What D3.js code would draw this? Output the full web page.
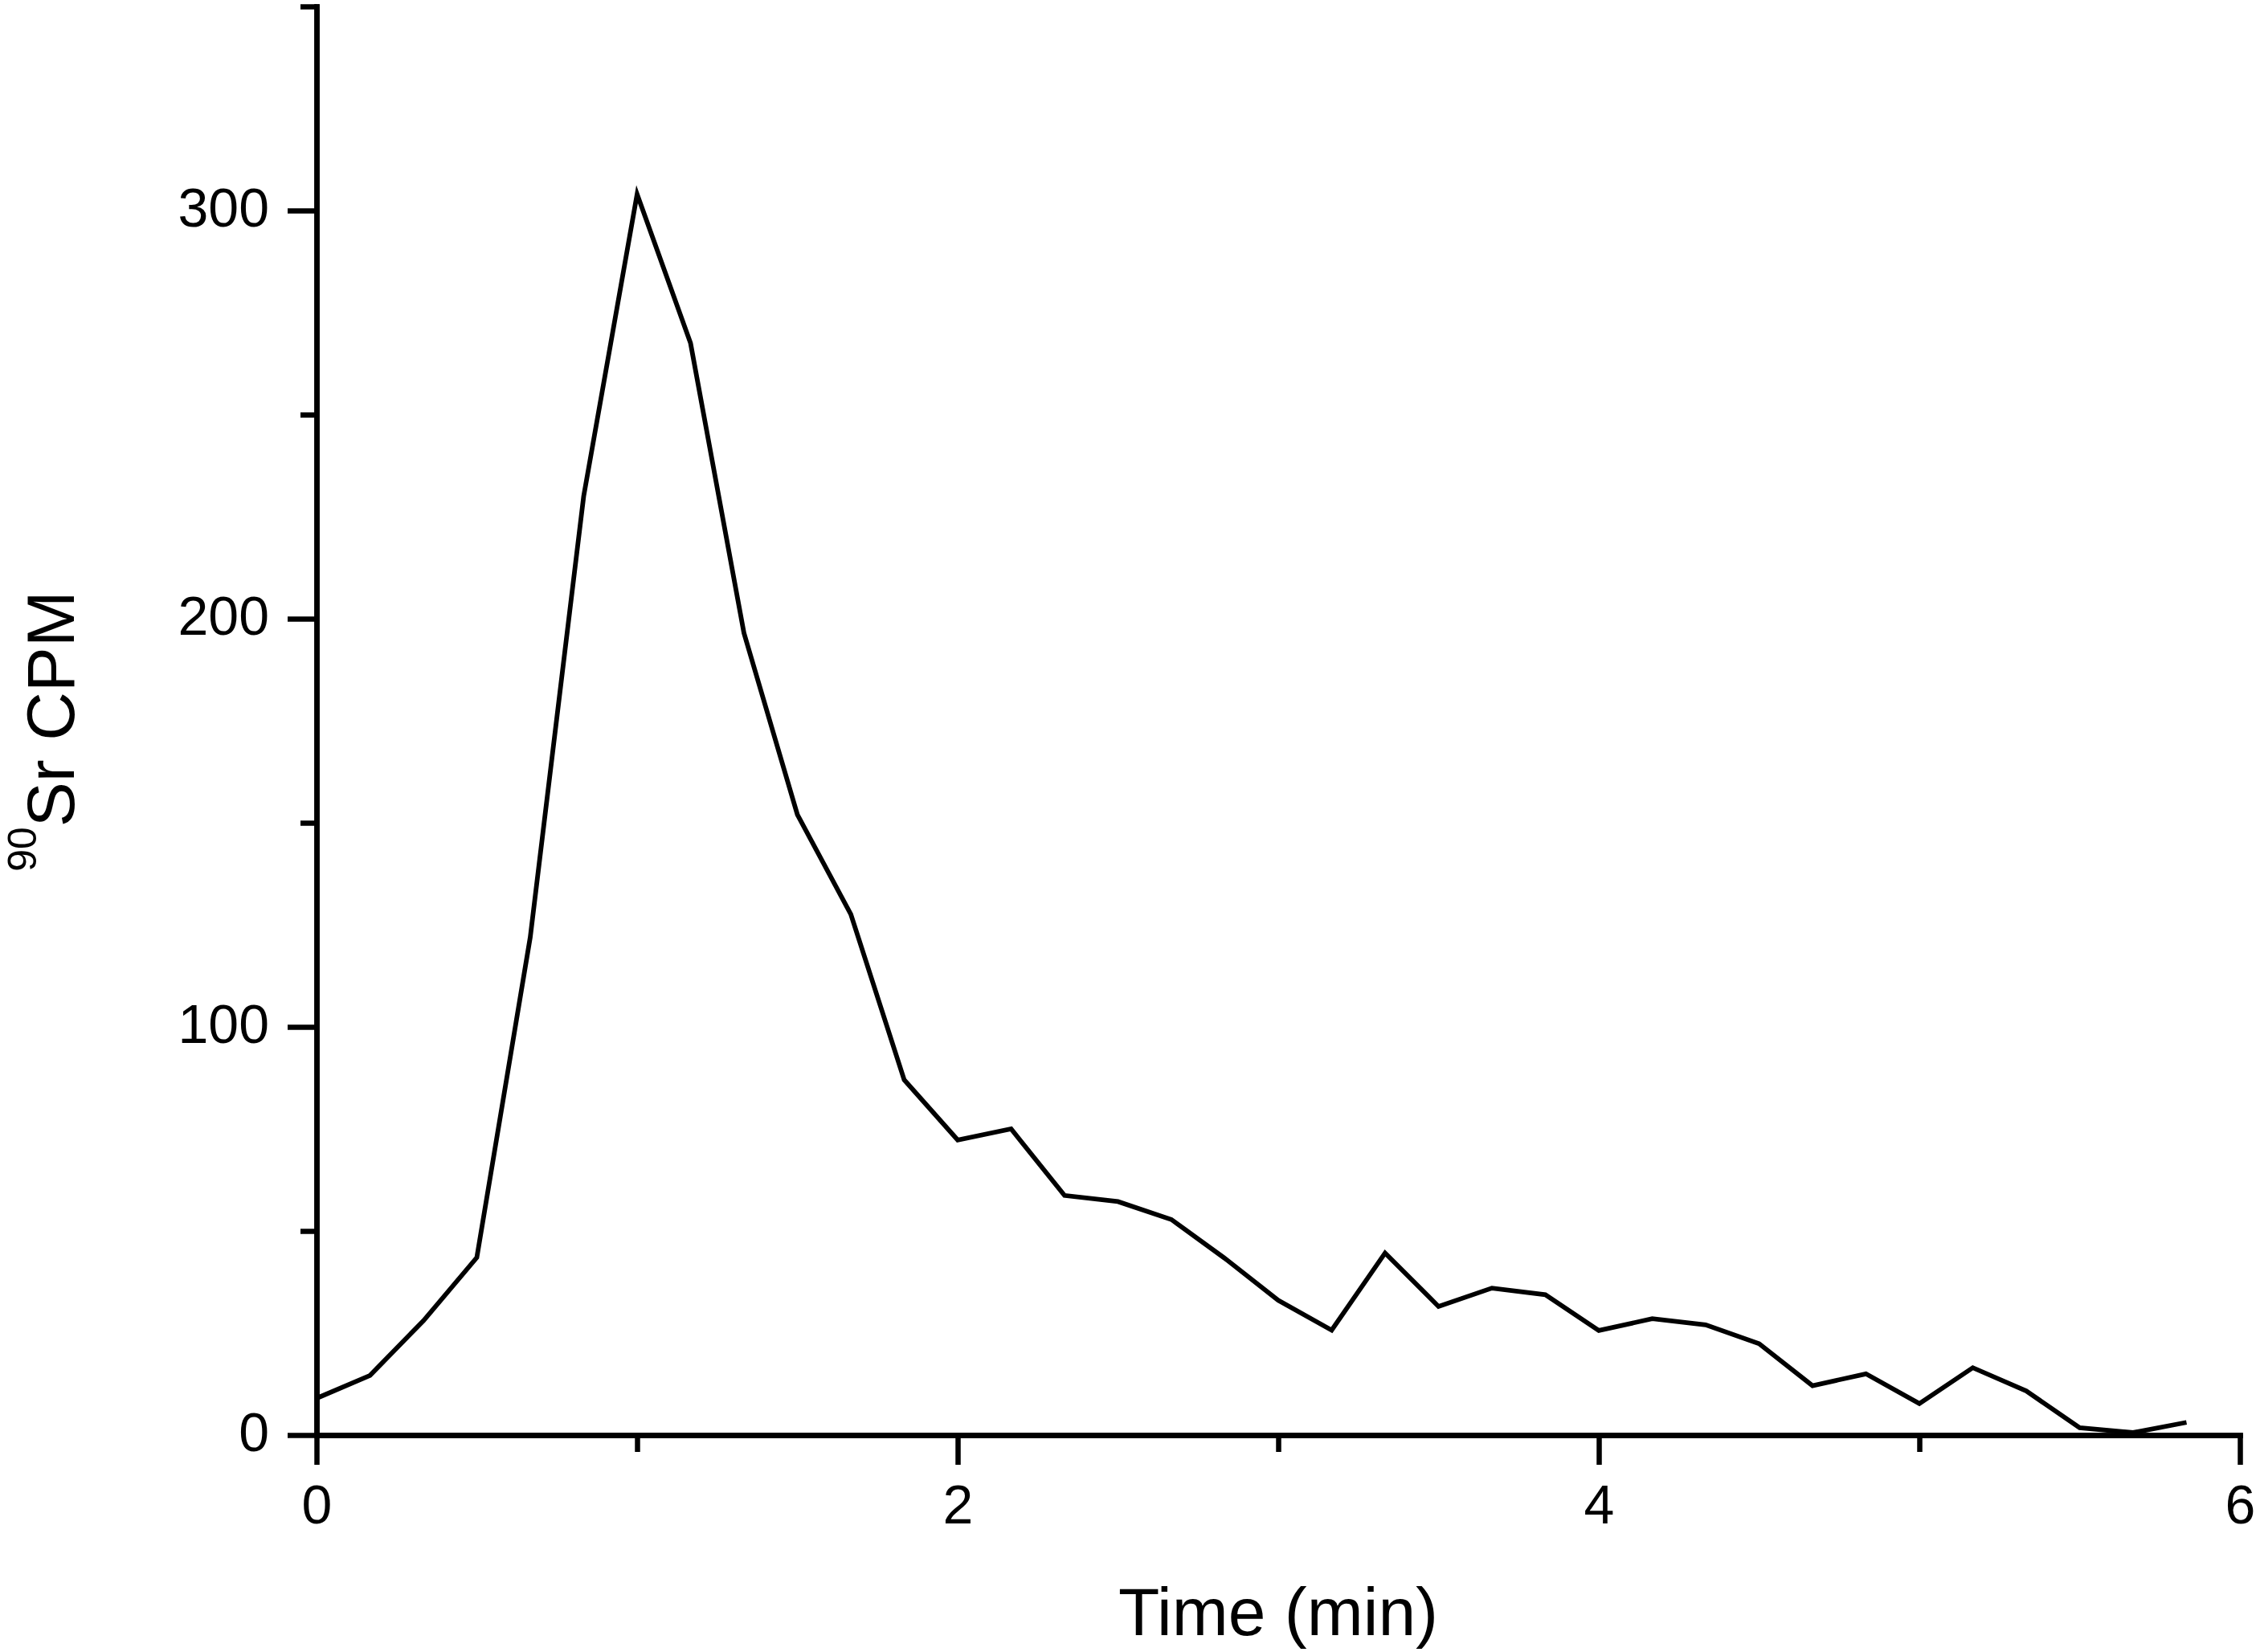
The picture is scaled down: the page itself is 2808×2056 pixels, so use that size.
<!DOCTYPE html>
<html>
<head>
<meta charset="utf-8">
<script src="https://cdn.jsdelivr.net/npm/d3@7"></script>
<style>
  html, body { margin: 0; padding: 0; background: #fff; }
  svg { display: block; }
  text { font-family: "Liberation Sans", Arial, sans-serif; fill: #000; }
</style>
</head>
<body>
<svg id="chart" width="2808" height="2056"></svg>
<script>
// ---- data ----
const timeMin = [0, 0.1667, 0.3333, 0.5, 0.6667, 0.8333, 1, 1.1667, 1.3333, 1.5, 1.6667, 1.8333,
                 2, 2.1667, 2.3333, 2.5, 2.6667, 2.8333, 3, 3.1667, 3.3333, 3.5, 3.6667, 3.8333,
                 4, 4.1667, 4.3333, 4.5, 4.6667, 4.8333, 5, 5.1667, 5.3333, 5.5, 5.6667, 5.8333];
const cpm = [9.0, 14.6, 28.0, 43.5, 122, 230, 304, 267.5, 196.5, 152, 127.6, 87,
             72.3, 75, 58.7, 57.2, 52.8, 43.3, 33, 25.7, 44.6, 31.5, 36, 34.4,
             25.6, 28.5, 27, 22.4, 12.1, 15, 7.7, 16.5, 10.8, 1.8, 0.6, 3.1];
const xMajorTicks = [0, 2, 4, 6];
const xMinorTicks = [1, 3, 5];
const yMajorTicks = [0, 100, 200, 300];
const yMinorTicks = [50, 150, 250, 350];
const xDomain = [0, 6];
const yDomain = [0, 350];
const xTitle = "Time (min)";
const yTitleSup = "90";
const yTitleMain = "Sr CPM";

(function () {
  // ---- layout ----
  const mLeft = 394, mRight = 2788, mTop = 8, mBottom = 1786;
  const svg = d3.select("#chart");

  const x = d3.scaleLinear().domain(xDomain).range([mLeft, mRight]);
  const y = d3.scaleLinear().domain(yDomain).range([mBottom, mTop]);

  const axisStroke = 6.5;
  const tickFont = 68;

  function styleAxis(g) {
    g.selectAll("path.domain").attr("stroke", "#000").attr("stroke-width", axisStroke).attr("stroke-linecap", "square");
    g.selectAll(".tick line").attr("stroke", "#000").attr("stroke-width", axisStroke);
    g.selectAll(".tick text").attr("font-size", tickFont).attr("fill", "#000")
      .attr("font-family", "'Liberation Sans', Arial, sans-serif");
  }

  // X minor ticks
  svg.append("g").attr("transform", `translate(0,${mBottom})`)
    .call(d3.axisBottom(x).tickValues(xMinorTicks).tickSize(21).tickSizeOuter(0).tickFormat(""))
    .call(styleAxis);
  // X major
  svg.append("g").attr("transform", `translate(0,${mBottom})`)
    .call(d3.axisBottom(x).tickValues(xMajorTicks).tickSize(37).tickSizeOuter(0).tickPadding(25).tickFormat(d3.format("d")))
    .call(styleAxis);

  // Y minor
  svg.append("g").attr("transform", `translate(${mLeft},0)`)
    .call(d3.axisLeft(y).tickValues(yMinorTicks).tickSize(20).tickSizeOuter(0).tickFormat(""))
    .call(styleAxis);
  // Y major
  const yg = svg.append("g").attr("transform", `translate(${mLeft},0)`)
    .call(d3.axisLeft(y).tickValues(yMajorTicks).tickSize(36).tickSizeOuter(0).tickPadding(23).tickFormat(d3.format("d")))
    .call(styleAxis);
  yg.selectAll(".tick text").attr("dy", "0.28em");

  // data line
  const line = d3.line().x((d, i) => x(timeMin[i])).y(d => y(d));
  svg.append("path")
    .datum(cpm)
    .attr("d", line)
    .attr("fill", "none")
    .attr("stroke", "#000")
    .attr("stroke-width", 5.8)
    .attr("stroke-linejoin", "miter");

  // X title
  svg.append("text")
    .attr("x", (mLeft + mRight) / 2)
    .attr("y", 2035)
    .attr("text-anchor", "middle")
    .attr("font-size", 84)
    .text(xTitle);

  // Y title (rotated)
  const yt = svg.append("text")
    .attr("transform", `translate(92,910) rotate(-90)`)
    .attr("text-anchor", "middle")
    .attr("font-size", 84);
  yt.append("tspan").attr("font-size", 50).attr("dy", -47).text(yTitleSup);
  yt.append("tspan").attr("dy", 47).text(yTitleMain);
})();
</script>
</body>
</html>
